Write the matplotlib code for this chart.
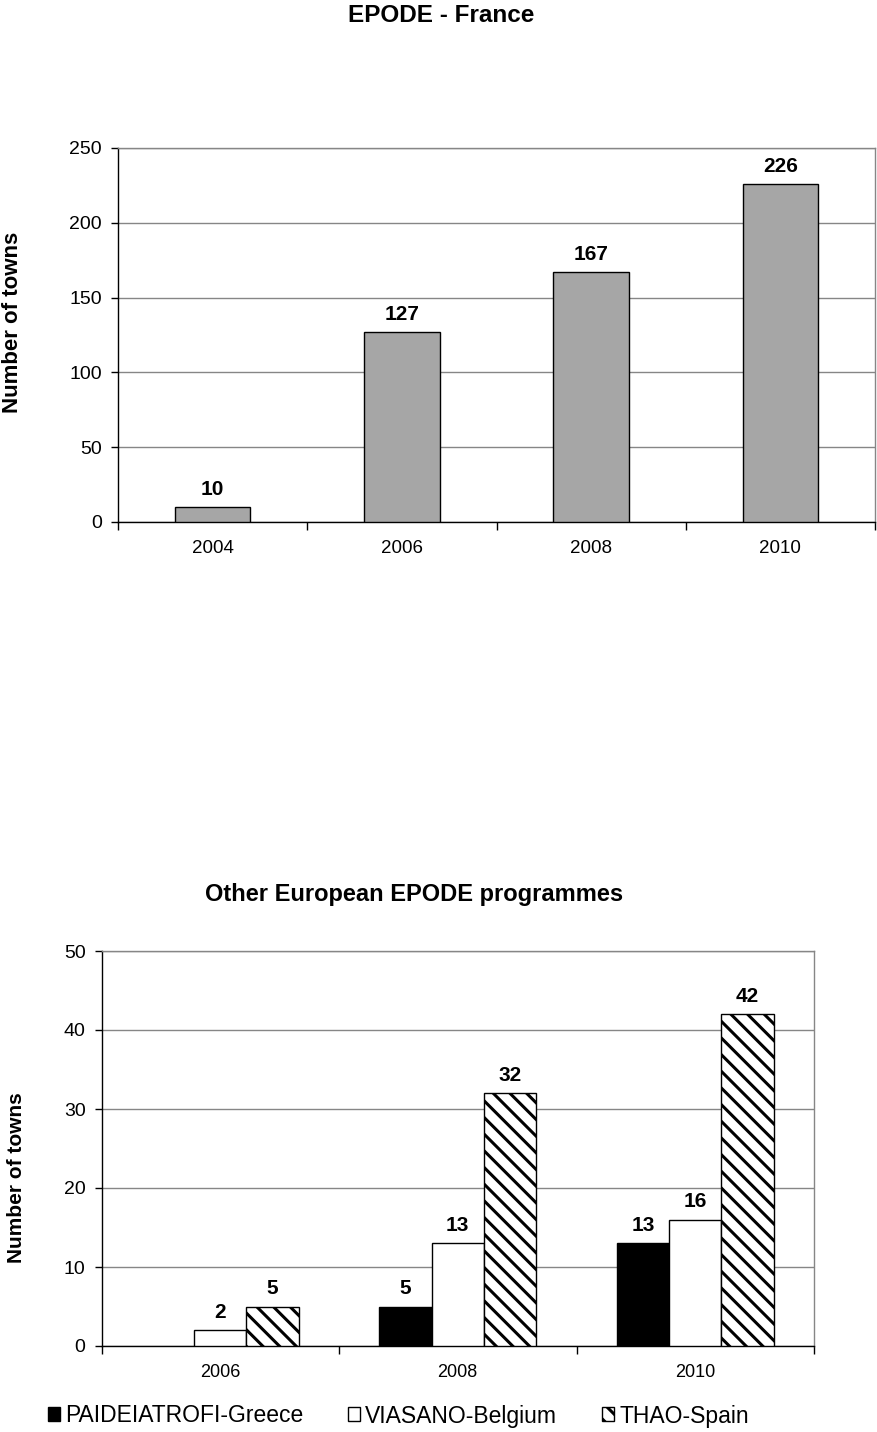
import matplotlib
matplotlib.use("Agg")
import matplotlib.pyplot as plt
import numpy as np
from matplotlib.patches import Patch

plt.rcParams['font.family'] = ['Liberation Sans', 'DejaVu Sans']
plt.rcParams['hatch.linewidth'] = 2.2

# Data
france_years = ["2004", "2006", "2008", "2010"]
france_towns = [10, 127, 167, 226]

other_years = ["2006", "2008", "2010"]
series_names = ["PAIDEIATROFI-Greece", "VIASANO-Belgium", "THAO-Spain"]
greece = [0, 5, 13]
belgium = [2, 13, 16]
spain = [5, 32, 42]
greece_labels = [None, "5", "13"]
belgium_labels = ["2", "13", "16"]
spain_labels = ["5", "32", "42"]

W, H = 877, 1432
fig = plt.figure(figsize=(W / 100, H / 100), dpi=100)

GRID = '#868686'


def style_axes(ax, n, ymax, ystep):
    ax.set_xlim(-0.5, n - 0.5)
    ax.set_ylim(0, ymax)
    ax.set_yticks(np.arange(0, ymax + 1, ystep))
    ax.yaxis.grid(True, color=GRID, linewidth=1.0)
    ax.set_axisbelow(True)
    ax.spines['left'].set_color('black')
    ax.spines['bottom'].set_color('black')
    ax.spines['top'].set_color(GRID)
    ax.spines['right'].set_color(GRID)
    for s in ax.spines.values():
        s.set_linewidth(1.0)
    ax.set_xticks(np.arange(-0.5, n, 1.0))
    ax.set_xticklabels([])
    ax.tick_params(axis='x', which='major', direction='out', length=6, width=1, color='black')
    ax.tick_params(axis='y', direction='out', length=5, width=1, labelsize=14, pad=6.5)


# ---------- Top chart ----------
ax1 = fig.add_axes([118 / W, 1 - 522 / H, (875 - 118) / W, (522 - 148) / H])
x1 = np.arange(len(france_years))
ax1.bar(x1, france_towns, width=0.4, color='#a6a6a6', edgecolor='black', linewidth=1.0, zorder=3)
style_axes(ax1, len(france_years), 250, 50)
ax1.set_xticks(x1, minor=True)
ax1.set_xticklabels(france_years, minor=True, fontsize=13.5)
ax1.tick_params(axis='x', which='minor', length=0, pad=13)
for xi, v in zip(x1, france_towns):
    ax1.annotate(str(v), (xi, v), xytext=(0, 6), textcoords='offset points',
                 ha='center', va='bottom', fontsize=15, fontweight='bold')
fig.text(13 / W, 1 - 322 / H, "Number of towns", rotation=90, ha='center', va='center',
         fontsize=16, fontweight='bold')
fig.text(441 / W, 1 - 15 / H, "EPODE - France", ha='center', va='center',
         fontsize=17.5, fontweight='bold')

# ---------- Bottom chart ----------
ax2 = fig.add_axes([101.5 / W, 1 - 1346 / H, (814 - 101.5) / W, (1346 - 951) / H])
x2 = np.arange(len(other_years))
bw = 0.22
b_g = ax2.bar(x2 - bw, greece, width=bw, color='black', edgecolor='black', linewidth=1.0, zorder=3)
for rect, v in zip(b_g, greece):
    if v == 0:
        rect.set_visible(False)
ax2.bar(x2, belgium, width=bw, color='white', edgecolor='black', linewidth=1.0, zorder=3)
ax2.bar(x2 + bw, spain, width=bw, color='white', edgecolor='black', linewidth=1.0,
        hatch='\\\\', zorder=3)
style_axes(ax2, len(other_years), 50, 10)
ax2.set_xticks(x2, minor=True)
ax2.set_xticklabels(other_years, minor=True, fontsize=13)
ax2.tick_params(axis='x', which='minor', length=0, pad=13)
for offs, vals, labs in [(-bw, greece, greece_labels), (0, belgium, belgium_labels), (bw, spain, spain_labels)]:
    for xi, v, lab in zip(x2, vals, labs):
        if lab is None:
            continue
        ax2.annotate(lab, (xi + offs, v), xytext=(0, 6), textcoords='offset points',
                     ha='center', va='bottom', fontsize=15, fontweight='bold')
fig.text(17 / W, 1 - 1178 / H, "Number of towns", rotation=90, ha='center', va='center',
         fontsize=15, fontweight='bold')
fig.text(414 / W, 1 - 895 / H, "Other European EPODE programmes", ha='center', va='center',
         fontsize=17, fontweight='bold')

handles = [Patch(facecolor='black', edgecolor='black'),
           Patch(facecolor='white', edgecolor='black'),
           Patch(facecolor='white', edgecolor='black', hatch='\\\\')]
fig.legend(handles, series_names, loc='center left', bbox_to_anchor=(48 / W, 1 - 1416 / H),
           ncol=3, frameon=False, fontsize=16.5, handlelength=0.52, handleheight=0.55,
           handletextpad=0.22, columnspacing=1.97, borderpad=0, borderaxespad=0)

fig.savefig("out.png", dpi=100)
